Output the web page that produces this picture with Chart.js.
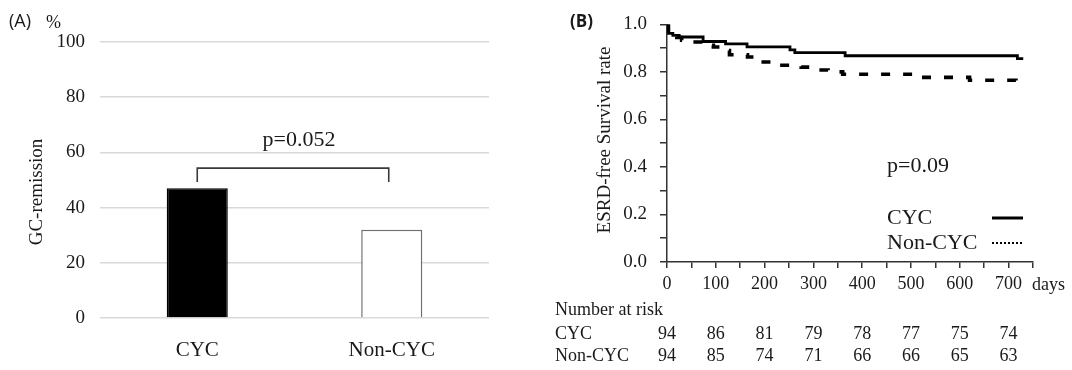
<!DOCTYPE html>
<html>
<head>
<meta charset="utf-8">
<script src="https://cdn.jsdelivr.net/npm/chart.js@4.4.1/dist/chart.umd.min.js"></script>
<style>
  html, body { margin: 0; padding: 0; background: #fff; }
  #wrap { position: relative; width: 1072px; height: 370px; overflow: hidden; background: #fff; }
  canvas { position: absolute; top: 0; }
  #cA { left: 0; }
  #cB { left: 540px; }
</style>
</head>
<body>
<div id="wrap">
  <canvas id="cA" width="540" height="370"></canvas>
  <canvas id="cB" width="532" height="370"></canvas>
</div>
<script>
// ---------- Data ----------
const groupLabels = ['CYC', 'Non-CYC'];
const remissionPct = [47, 32];
const pValueA = 'p=0.052';

const cycDays = [0, 3, 12, 25, 74, 120, 164, 252, 262, 365, 718, 730];
const cycSurv = [1.0, 0.962, 0.954, 0.947, 0.928, 0.918, 0.905, 0.893, 0.881, 0.868, 0.856, 0.856];

const nonCycDays = [0, 3, 10, 20, 30, 40, 78, 95, 115, 128, 165, 190, 225, 275, 300, 330, 360, 520, 620, 715, 730];
const nonCycSurv = [1.0, 0.965, 0.955, 0.945, 0.933, 0.926, 0.912, 0.905, 0.89, 0.872, 0.863, 0.842, 0.828, 0.82, 0.808, 0.80, 0.79, 0.777, 0.765, 0.75, 0.75];

const riskDays = [0, 100, 200, 300, 400, 500, 600, 700];
const riskCYC = [94, 86, 81, 79, 78, 77, 75, 74];
const riskNonCYC = [94, 85, 74, 71, 66, 66, 65, 63];
const pValueB = 'p=0.09';

// ---------- Common ----------
const SERIF = "'Liberation Serif', 'Times New Roman', serif";
const SANS = "'Open Sans', 'Noto Sans', sans-serif";
const INK = '#1a1a1a';
Chart.defaults.font.family = SERIF;
Chart.defaults.color = INK;

// ---------- Panel A ----------
const panelAOverlay = {
  id: 'panelAOverlay',
  afterDraw(chart) {
    const { ctx, scales: { x, y } } = chart;
    ctx.save();
    // bracket
    const xa = x.getPixelForValue(0), xb = x.getPixelForValue(1) - 3;
    const yt = y.getPixelForValue(54.3), ye = y.getPixelForValue(49.3);
    ctx.strokeStyle = '#3a3a3a';
    ctx.lineWidth = 1.6;
    ctx.beginPath();
    ctx.moveTo(xa, ye); ctx.lineTo(xa, yt); ctx.lineTo(xb, yt); ctx.lineTo(xb, ye);
    ctx.stroke();
    // p value
    ctx.fillStyle = INK;
    ctx.font = '22px ' + SERIF;
    ctx.textAlign = 'center';
    ctx.textBaseline = 'middle';
    ctx.fillText(pValueA, (xa + xb) / 2 + 6, 140);
    // y title
    ctx.save();
    ctx.translate(37, 192);
    ctx.rotate(-Math.PI / 2);
    ctx.font = '19px ' + SERIF;
    ctx.fillText('GC-remission', 0, 0);
    ctx.restore();
    // panel label
    ctx.textAlign = 'left';
    ctx.font = '18px ' + SANS;
    ctx.fillText('(A)', 9, 22);
    ctx.font = '18px ' + SERIF;
    ctx.fillText('%', 46, 23);
    ctx.restore();
  }
};

new Chart(document.getElementById('cA'), {
  type: 'bar',
  data: {
    labels: groupLabels,
    datasets: [{
      data: remissionPct,
      backgroundColor: ['#000000', '#ffffff'],
      borderColor: ['#000000', '#6e6e6e'],
      borderWidth: 1.5,
      categoryPercentage: 1,
      barPercentage: 0.314
    }]
  },
  options: {
    responsive: false,
    animation: false,
    devicePixelRatio: 1,
    layout: { padding: { left: 0, top: 42, right: 51, bottom: 0 } },
    plugins: { legend: { display: false }, tooltip: { enabled: false } },
    scales: {
      x: {
        grid: { display: false },
        border: { display: false },
        ticks: { font: { size: 21 }, padding: 12, color: INK },
        afterFit(s) { s.height = 52; }
      },
      y: {
        min: 0, max: 100,
        ticks: { stepSize: 20, font: { size: 19 }, padding: 15, color: INK },
        grid: { color: '#d9d9d9', lineWidth: 1.5, drawTicks: false },
        border: { display: false },
        afterFit(s) { s.width = 100; }
      }
    }
  },
  plugins: [panelAOverlay]
});

// ---------- Panel B ----------
const toPts = (xs, ys) => xs.map((d, i) => ({ x: d, y: ys[i] }));

const panelBOverlay = {
  id: 'panelBOverlay',
  afterDraw(chart) {
    const { ctx, scales: { x } } = chart;
    const ox = -540; // canvas offset in page
    ctx.save();
    ctx.fillStyle = INK;
    ctx.textBaseline = 'middle';
    // panel label
    ctx.font = 'bold 17px ' + SANS;
    ctx.textAlign = 'left';
    ctx.fillText('(B)', 570 + ox, 22);
    // y title
    ctx.save();
    ctx.translate(605 + ox, 140);
    ctx.rotate(-Math.PI / 2);
    ctx.textAlign = 'center';
    ctx.font = '19px ' + SERIF;
    ctx.fillText('ESRD-free Survival rate', 0, 0);
    ctx.restore();
    // days
    ctx.font = '18px ' + SERIF;
    ctx.textAlign = 'left';
    ctx.fillText('days', 1032 + ox, 285);
    // p value
    ctx.font = '22px ' + SERIF;
    ctx.fillText(pValueB, 887 + ox, 166);
    // legend
    ctx.fillText('CYC', 887 + ox, 218);
    ctx.fillText('Non-CYC', 887 + ox, 243);
    ctx.strokeStyle = '#000';
    ctx.lineWidth = 3;
    ctx.beginPath(); ctx.moveTo(992 + ox, 218); ctx.lineTo(1023 + ox, 218); ctx.stroke();
    ctx.lineWidth = 2;
    ctx.setLineDash([2, 2]);
    ctx.beginPath(); ctx.moveTo(992 + ox, 243); ctx.lineTo(1023 + ox, 243); ctx.stroke();
    ctx.setLineDash([]);
    // number at risk table
    ctx.font = '18px ' + SERIF;
    ctx.fillText('Number at risk', 555 + ox, 310);
    ctx.fillText('CYC', 555 + ox, 334);
    ctx.fillText('Non-CYC', 555 + ox, 356);
    ctx.textAlign = 'center';
    riskDays.forEach((d, i) => {
      const px = x.getPixelForValue(d);
      ctx.fillText(String(riskCYC[i]), px, 334);
      ctx.fillText(String(riskNonCYC[i]), px, 356);
    });
    ctx.restore();
  }
};

new Chart(document.getElementById('cB'), {
  type: 'line',
  data: {
    datasets: [
      {
        label: 'CYC',
        data: toPts(cycDays, cycSurv),
        borderColor: '#000',
        borderWidth: 2.8,
        stepped: true,
        pointRadius: 0,
        fill: false
      },
      {
        label: 'Non-CYC',
        data: toPts(nonCycDays, nonCycSurv),
        borderColor: '#000',
        borderWidth: 3.6,
        borderDash: [9, 13],
        stepped: true,
        pointRadius: 0,
        fill: false
      }
    ]
  },
  options: {
    responsive: false,
    animation: false,
    devicePixelRatio: 1,
    layout: { padding: { left: 0, top: 24, right: 39, bottom: 0 } },
    plugins: { legend: { display: false }, tooltip: { enabled: false } },
    scales: {
      x: {
        type: 'linear',
        min: 0, max: 750,
        ticks: {
          stepSize: 50, autoSkip: false, maxRotation: 0, padding: 5,
          font: { size: 18 }, color: INK,
          callback: v => (v % 100 === 0 && v < 750) ? String(v) : ''
        },
        grid: { drawOnChartArea: false, drawTicks: true, tickLength: 6, color: '#333', lineWidth: 1.5 },
        border: { display: true, color: '#333', width: 1.5 },
        afterFit(s) { s.height = 108; }
      },
      y: {
        min: 0, max: 1,
        ticks: {
          stepSize: 0.1, autoSkip: false, padding: 13,
          font: { size: 19 }, color: INK,
          callback: v => (Math.round(v * 10) % 2 === 0) ? Number(v).toFixed(1) : ''
        },
        grid: { drawOnChartArea: false, drawTicks: true, tickLength: 7, color: '#333', lineWidth: 1.5 },
        border: { display: true, color: '#333', width: 1.5 },
        afterFit(s) { s.width = 127; }
      }
    }
  },
  plugins: [panelBOverlay]
});
</script>
</body>
</html>
